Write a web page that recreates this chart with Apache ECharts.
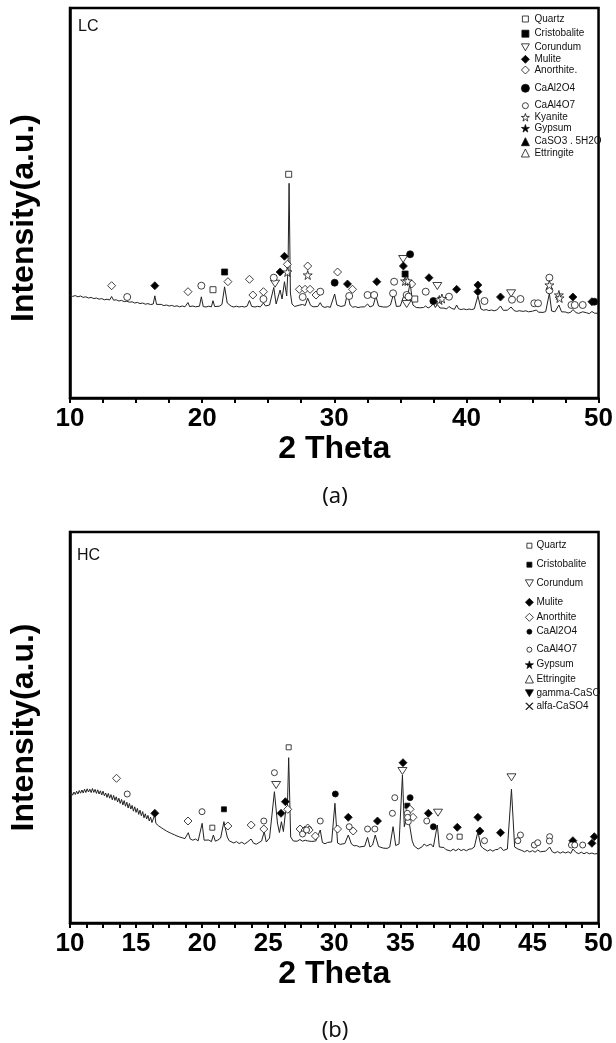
<!DOCTYPE html>
<html><head><meta charset="utf-8">
<script src="https://cdn.jsdelivr.net/npm/echarts/dist/echarts.min.js"></script>
<style>html,body{margin:0;padding:0;background:#fff}#c{width:616px;height:1043px}</style>
</head><body><div id="c"></div>
<script>
// ---------- (a) LC pattern : [2theta, intensity] ----------
var lcPattern = [
[10.0,1025],[10.2,1016],[10.4,1024],[10.6,1012],[10.8,1020],[11.0,1006],[11.2,1012],[11.4,1000],[11.6,1006],[11.8,994],
[12.0,1000],[12.2,988],[12.4,994],[12.6,982],[12.8,988],[13.0,980],[13.15,1015],[13.3,978],[13.5,982],[13.7,970],[13.9,976],
[14.1,964],[14.3,968],[14.5,958],[14.7,962],[14.9,950],[15.1,956],[15.3,944],[15.5,950],[15.7,938],[15.9,944],[16.1,934],
[16.3,940],[16.42,1022],[16.55,936],[16.7,930],[16.9,936],[17.1,924],[17.3,930],[17.5,920],[17.7,926],[17.9,916],[18.1,922],
[18.3,912],[18.5,920],[18.7,912],[18.8,916],[18.93,955],[19.05,914],[19.3,920],[19.5,912],[19.8,918],[19.94,1012],[20.08,915],
[20.3,910],[20.5,918],[20.7,912],[20.82,973],[20.95,914],[21.1,910],[21.3,918],[21.5,935],[21.7,1112],[21.9,950],[22.2,918],
[22.4,910],[22.6,918],[22.8,910],[23.0,916],[23.2,910],[23.4,918],[23.58,975],[23.75,916],[24.0,910],[24.2,917],[24.4,911],
[24.5,918],[24.64,950],[24.8,920],[25.1,930],[25.42,1105],[25.6,940],[25.75,960],[25.9,1080],[26.05,990],[26.23,1163],[26.4,1020],
[26.5,1300],[26.58,2147],[26.68,1050],[26.8,940],[27.0,915],[27.1,922],[27.4,930],[27.6,935],[27.8,925],[27.99,998],[28.2,928],
[28.4,912],[28.5,920],[28.75,915],[28.94,953],[29.1,915],[29.3,906],[29.5,914],[29.7,906],[29.8,915],[30.03,1040],[30.2,930],
[30.5,915],[30.8,925],[31.0,1047],[31.2,930],[31.4,908],[31.6,914],[31.8,904],[32.0,910],[32.3,912],[32.52,940],[32.7,910],
[32.95,925],[33.15,1020],[33.35,920],[33.5,904],[33.7,910],[33.85,902],[34.0,910],[34.25,930],[34.5,1047],[34.7,915],[35.0,920],
[35.2,1000],[35.36,1047],[35.5,980],[35.74,1153],[35.95,930],[36.2,905],[36.35,896],[36.5,902],[36.75,905],[36.92,920],[37.1,900],
[37.3,915],[37.5,945],[37.65,905],[37.8,935],[38.0,900],[38.15,892],[38.3,899],[38.5,890],[38.68,915],[38.9,895],[39.1,887],
[39.26,930],[39.4,893],[39.6,884],[39.8,891],[40.0,883],[40.2,890],[40.4,884],[40.6,892],[40.87,1020],[41.1,890],[41.3,878],
[41.5,884],[41.7,874],[41.9,880],[42.1,872],[42.3,880],[42.58,920],[42.8,876],[42.95,868],[43.1,878],[43.38,910],[43.6,875],
[43.8,866],[44.0,873],[44.09,888],[44.3,866],[44.5,872],[44.7,862],[45.0,868],[45.15,860],[45.3,880],[45.45,858],[45.6,866],
[45.8,856],[46.0,864],[46.28,1047],[46.45,870],[46.6,854],[46.7,862],[47.0,930],[47.2,862],[47.35,852],[47.5,860],[47.7,850],
[47.9,858],[48.06,885],[48.3,854],[48.5,846],[48.8,862],[48.95,846],[49.1,852],[49.3,844],[49.5,865],[49.7,848],[49.85,842],[50.0,847]
];
// ---------- (b) HC pattern ----------
var hcPattern = [
[10.0,1280],[10.1,1305],[10.2,1278],[10.3,1310],[10.4,1285],[10.5,1318],[10.6,1290],[10.7,1325],[10.8,1298],[10.9,1330],
[11.0,1300],[11.1,1338],[11.2,1305],[11.3,1342],[11.4,1310],[11.5,1338],[11.6,1304],[11.7,1345],[11.8,1306],[11.9,1336],
[12.0,1296],[12.1,1332],[12.2,1290],[12.3,1322],[12.4,1280],[12.5,1318],[12.6,1272],[12.7,1300],[12.8,1256],[12.9,1296],
[13.0,1248],[13.1,1284],[13.2,1232],[13.3,1276],[13.4,1226],[13.5,1262],[13.6,1210],[13.7,1248],[13.8,1196],[13.9,1236],
[14.0,1180],[14.1,1224],[14.2,1168],[14.3,1208],[14.4,1150],[14.5,1196],[14.6,1140],[14.7,1176],[14.8,1118],[14.9,1162],
[15.0,1106],[15.1,1146],[15.2,1086],[15.3,1128],[15.4,1072],[15.5,1114],[15.6,1052],[15.7,1092],[15.8,1040],[15.9,1076],
[16.0,1020],[16.1,1058],[16.2,1005],[16.3,1040],[16.42,1085],[16.5,996],[16.6,1012],[16.7,972],[16.8,990],[16.9,954],
[17.0,972],[17.1,936],[17.2,954],[17.3,920],[17.4,938],[17.5,906],[17.6,918],[17.7,894],[17.8,906],[17.9,882],[18.0,894],
[18.1,870],[18.2,880],[18.3,860],[18.4,870],[18.5,852],[18.6,862],[18.7,844],[18.8,852],[18.95,903],[19.1,840],[19.3,828],
[19.5,840],[19.7,822],[19.85,835],[20.0,997],[20.15,828],[20.3,814],[20.5,830],[20.7,814],[20.85,880],[21.0,818],[21.2,830],
[21.4,850],[21.65,1013],[21.9,860],[22.05,822],[22.2,808],[22.4,800],[22.6,814],[22.8,794],[23.0,808],[23.2,790],[23.4,806],
[23.55,792],[23.7,840],[23.9,797],[24.1,788],[24.3,804],[24.5,820],[24.7,913],[24.85,810],[25.1,850],[25.47,1313],[25.7,1000],
[25.85,905],[26.0,1013],[26.15,915],[26.3,1100],[26.45,1150],[26.55,1653],[26.7,860],[26.9,820],[27.05,804],[27.2,818],
[27.4,835],[27.6,818],[27.8,828],[28.0,820],[28.15,802],[28.3,816],[28.45,800],[28.6,820],[28.94,930],[29.1,805],[29.3,792],
[29.5,806],[29.65,790],[29.8,810],[30.05,1197],[30.25,800],[30.45,786],[30.6,785],[30.8,795],[31.06,880],[31.3,790],[31.5,772],
[31.7,774],[31.9,760],[32.1,764],[32.3,768],[32.52,857],[32.7,760],[32.9,780],[33.1,880],[33.35,765],[33.5,746],[33.7,749],
[33.85,734],[34.0,746],[34.2,760],[34.45,963],[34.65,775],[34.9,790],[35.16,1480],[35.3,963],[35.5,1063],[35.7,980],[35.9,820],
[36.05,770],[36.2,750],[36.35,740],[36.5,755],[36.65,762],[36.8,790],[37.0,770],[37.3,790],[37.5,760],[37.8,980],[37.95,760],
[38.1,745],[38.3,755],[38.45,734],[38.6,736],[38.8,720],[39.0,738],[39.2,722],[39.4,742],[39.6,724],[39.8,736],[40.0,722],
[40.2,738],[40.4,742],[40.6,760],[40.87,913],[41.1,770],[41.25,748],[41.4,735],[41.6,720],[41.8,734],[42.0,718],[42.2,734],
[42.4,736],[42.58,760],[42.8,725],[42.95,732],[43.1,740],[43.41,1337],[43.65,760],[43.9,740],[44.05,728],[44.2,725],[44.4,712],
[44.6,726],[44.8,710],[45.0,724],[45.2,708],[45.4,730],[45.6,712],[45.8,716],[46.0,718],[46.15,706],[46.3,760],[46.5,712],
[46.7,700],[46.9,714],[47.1,698],[47.3,712],[47.5,700],[47.7,712],[47.9,696],[48.06,740],[48.3,705],[48.5,694],[48.7,708],
[48.9,692],[49.1,706],[49.3,692],[49.5,700],[49.7,690],[49.85,702],[50.0,697]
];

// ---------- phase markers (a) LC ----------
var lcQuartz = [[20.82,1083],[26.55,2237],[36.09,990]];
var lcCristobalite = [[21.7,1260],[35.36,1240]];
var lcCorundum = [[25.52,1143],[35.21,1390],[35.48,940],[37.8,1120],[43.38,1047]];
var lcMulite = [[16.42,1123],[25.9,1260],[26.23,1417],[31.0,1140],[33.22,1163],[35.23,1320],[37.17,1203],[39.26,1087],[40.87,1130],[40.87,1063],[42.58,1010],[48.06,1010],[49.5,963]];
var lcAnorthite = [[13.15,1123],[18.93,1063],[21.95,1163],[23.58,1187],[23.84,1030],[24.64,1063],[26.45,1337],[27.36,1087],[27.79,1087],[28.17,1087],[27.99,1320],[28.62,1030],[30.25,1260],[31.38,1087],[35.86,1140]];
var lcCaAl2O4 = [[30.03,1153],[35.74,1437],[37.5,970],[49.68,963]];
var lcCaAl4O7 = [[14.33,1010],[19.94,1123],[24.64,990],[25.42,1203],[27.61,1010],[28.94,1063],[31.13,1020],[32.52,1030],[33.02,1030],[34.53,1163],[34.45,1047],[35.48,1030],[35.62,1013],[36.92,1063],[38.68,1013],[41.37,970],[43.45,983],[44.09,990],[45.14,947],[45.42,947],[46.28,1203],[46.28,1077],[47.95,930],[48.2,930],[48.8,930]];
var lcKyanite = [[26.45,1260],[27.99,1230],[35.36,1170],[35.55,1170],[37.95,980],[38.15,995],[46.28,1130],[47.0,1030],[47.05,1000]];
var lcGypsum = [];
var lcCaSO3 = [];
var lcEttringite = [];

// ---------- phase markers (b) HC ----------
var hcQuartz = [[20.77,953],[26.55,1757],[39.49,863]];
var hcCristobalite = [[21.65,1137],[35.53,1173]];
var hcCorundum = [[25.6,1380],[35.16,1520],[37.85,1103],[43.41,1457]];
var hcMulite = [[16.42,1097],[25.97,1097],[26.3,1213],[31.06,1057],[33.27,1020],[35.2,1603],[37.12,1097],[39.31,957],[40.87,1057],[41.02,920],[42.58,903],[48.06,823],[49.5,797],[49.68,863]];
var hcAnorthite = [[13.52,1447],[18.93,1020],[21.95,970],[23.71,980],[24.67,940],[26.48,1137],[27.41,940],[27.79,930],[27.99,950],[28.1,930],[28.57,870],[30.25,940],[31.43,920],[35.74,1137],[35.96,1057]];
var hcCaAl2O4 = [[30.08,1290],[35.74,1253],[37.5,963]];
var hcCaAl4O7 = [[14.33,1290],[19.99,1113],[24.67,1020],[25.47,1503],[27.6,890],[27.9,930],[28.94,1020],[31.13,963],[32.52,940],[33.07,940],[34.4,1097],[34.58,1253],[35.53,1097],[35.6,1013],[35.55,1057],[37.0,1020],[38.73,863],[41.37,823],[43.89,823],[44.09,880],[45.14,780],[45.4,803],[46.3,863],[46.28,820],[47.95,780],[48.2,780],[48.8,780]];
var hcGypsum = [];
var hcEttringite = [];
var hcGammaCaSO4 = [];
var hcAlfaCaSO4 = [];

var xTicksA = [10, 20, 30, 40, 50];
var xTicksB = [10, 15, 20, 25, 30, 35, 40, 45, 50];

var STAR = 'path://M50,0 L61,35 L98,35 L68,57 L79,91 L50,70 L21,91 L32,57 L2,35 L39,35 Z';
var TDOWN = 'path://M0,0 L100,0 L50,87 Z';
var XSYM = 'path://M0,0.6 L0.6,0 L5,4.4 L9.4,0 L10,0.6 L5.6,5 L10,9.4 L9.4,10 L5,5.6 L0.6,10 L0,9.4 L4.4,5 Z';

function mk(name, data, sym, fill, size, gi) {
  return {type:'scatter', name:name, xAxisIndex:gi, yAxisIndex:gi, data:data, symbol:sym, symbolSize:size,
    itemStyle:{color:fill, borderColor:'#111', borderWidth:0.8, opacity:1}, z:5, silent:true};
}

var topPhases = [
  ['Quartz', lcQuartz, 'rect', '#fff', 6],
  ['Cristobalite', lcCristobalite, 'rect', '#000', 6],
  ['Corundum', lcCorundum, TDOWN, '#fff', [9,7]],
  ['Mulite', lcMulite, 'diamond', '#000', 8],
  ['Anorthite.', lcAnorthite, 'diamond', '#fff', 8],
  ['CaAl2O4', lcCaAl2O4, 'circle', '#000', 7],
  ['CaAl4O7', lcCaAl4O7, 'circle', '#fff', 7],
  ['Kyanite', lcKyanite, STAR, '#fff', 9],
  ['Gypsum', lcGypsum, STAR, '#000', 9],
  ['CaSO3 . 5H2O', lcCaSO3, 'triangle', '#000', 8],
  ['Ettringite', lcEttringite, 'triangle', '#fff', 8]
];
var botPhases = [
  ['Quartz ', hcQuartz, 'rect', '#fff', 5],
  ['Cristobalite ', hcCristobalite, 'rect', '#000', 5],
  ['Corundum ', hcCorundum, TDOWN, '#fff', [9,7]],
  ['Mulite ', hcMulite, 'diamond', '#000', 8],
  ['Anorthite', hcAnorthite, 'diamond', '#fff', 8],
  ['CaAl2O4 ', hcCaAl2O4, 'circle', '#000', 6],
  ['CaAl4O7 ', hcCaAl4O7, 'circle', '#fff', 6],
  ['Gypsum ', hcGypsum, STAR, '#000', 9],
  ['Ettringite ', hcEttringite, 'triangle', '#fff', 8],
  ['gamma-CaSO', hcGammaCaSO4, TDOWN, '#000', [9,7]],
  ['alfa-CaSO4', hcAlfaCaSO4, XSYM, '#000', 7]
];
var topLegendY = [20, 34.7, 48.3, 60.3, 71, 89.3, 106.7, 118.3, 129.3, 142.7, 154];
var botLegendY = [546.7, 565.7, 584.3, 603.3, 618.3, 632.7, 650.7, 665.7, 680, 694.3, 707.3];
var topLegendSize = [6, 7, 8, 8, 8, 8, 6, 8, 8, 8, 8];
var botLegendSize = [5, 5, 8, 8, 8, 5, 5, 8, 8, 8, 7];

var series = [
  {type:'line', xAxisIndex:0, yAxisIndex:0, data:lcPattern, showSymbol:false, symbol:'none', lineStyle:{color:'#222', width:1}, z:3, silent:true},
  {type:'line', xAxisIndex:1, yAxisIndex:1, data:hcPattern, showSymbol:false, symbol:'none', lineStyle:{color:'#222', width:1}, z:3, silent:true}
];
var legends = [];
topPhases.forEach(function (p, i) {
  series.push(mk(p[0], p[1], p[2], p[3], p[4], 0));
  var s = topLegendSize[i];
  legends.push({left:525 - s / 2, top:topLegendY[i]-6, padding:0, itemWidth:s, itemHeight:s, itemGap:0, selectedMode:false,
    data:[p[0]], itemStyle:{borderWidth:0.8, borderColor:'#111'},
    textStyle:{fontSize:10, fontFamily:'Liberation Sans', color:'#111', padding:[0,0,0, 8 - s / 2 - 4]}});
});
botPhases.forEach(function (p, i) {
  series.push(mk(p[0], p[1], p[2], p[3], p[4], 1));
  var s = botLegendSize[i];
  legends.push({left:529 - s / 2, top:botLegendY[i]-6, padding:0, itemWidth:s, itemHeight:s, itemGap:0, selectedMode:false,
    data:[p[0]], itemStyle:{borderWidth:0.8, borderColor:'#111'},
    textStyle:{fontSize:10, fontFamily:'Liberation Sans', color:'#111', padding:[0,0,0, 6 - s / 2 - 4]},
    formatter: function (n) { return n.trim(); }});
});

function xAxis(gi, interval) {
  return {gridIndex:gi, type:'value', min:10, max:50, interval:interval,
    axisLine:{onZero:false, lineStyle:{color:'#000', width:2.5}},
    axisTick:{length:5, lineStyle:{color:'#000', width:2}},
    minorTick:{show:true, splitNumber:2, length:5, lineStyle:{color:'#000', width:2}},
    splitLine:{show:false},
    axisLabel:{fontSize:26, fontWeight:'bold', color:'#000', fontFamily:'Liberation Sans', margin:8,
      formatter:function (v) { return (gi === 0 ? xTicksA : xTicksB).indexOf(v) >= 0 ? String(v) : ''; }},
    name:'2 Theta', nameLocation:'middle', nameGap:22,
    nameTextStyle:{fontSize:32, fontWeight:'bold', color:'#000', fontFamily:'Liberation Sans'}};
}
function yAxis(gi, max, pad) {
  return {gridIndex:gi, type:'value', min:0, max:max,
    axisLine:{show:true, lineStyle:{color:'#000', width:2.5}},
    axisTick:{show:false}, axisLabel:{show:false}, splitLine:{show:false},
    name:'Intensity(a.u.)', nameLocation:'middle', nameGap:30,
    nameTextStyle:{fontSize:32, fontWeight:'bold', color:'#000', fontFamily:'Liberation Sans', padding:pad}};
}

var chart = echarts.init(document.getElementById('c'), null, {renderer:'canvas'});
chart.setOption({
  animation:false,
  backgroundColor:'#fff',
  title:[
    {text:'LC', left:78, top:19, padding:0, textStyle:{fontSize:16, fontWeight:'normal', fontFamily:'Liberation Sans', color:'#111'}},
    {text:'HC', left:77, top:548, padding:0, textStyle:{fontSize:16, fontWeight:'normal', fontFamily:'Liberation Sans', color:'#111'}},
    {text:'(a)', left:335, textAlign:'center', top:486, padding:0, textStyle:{fontSize:22, fontWeight:'normal', fontFamily:'Noto Sans', color:'#111'}},
    {text:'(b)', left:335, textAlign:'center', top:1020, padding:0, textStyle:{fontSize:22, fontWeight:'normal', fontFamily:'Noto Sans', color:'#111'}}
  ],
  legend:legends,
  grid:[
    {left:70, top:8, width:530, height:390, show:true, borderColor:'#000', borderWidth:2.5, backgroundColor:'transparent'},
    {left:70, top:532, width:530, height:391, show:true, borderColor:'#000', borderWidth:2.5, backgroundColor:'transparent'}
  ],
  xAxis:[xAxis(0, 5), xAxis(1, 2.5)],
  yAxis:[yAxis(0, 3900, [0, 30, 0, 0]), yAxis(1, 3910, [0, 0, 0, 0])],
  series:series
});
</script></body></html>
